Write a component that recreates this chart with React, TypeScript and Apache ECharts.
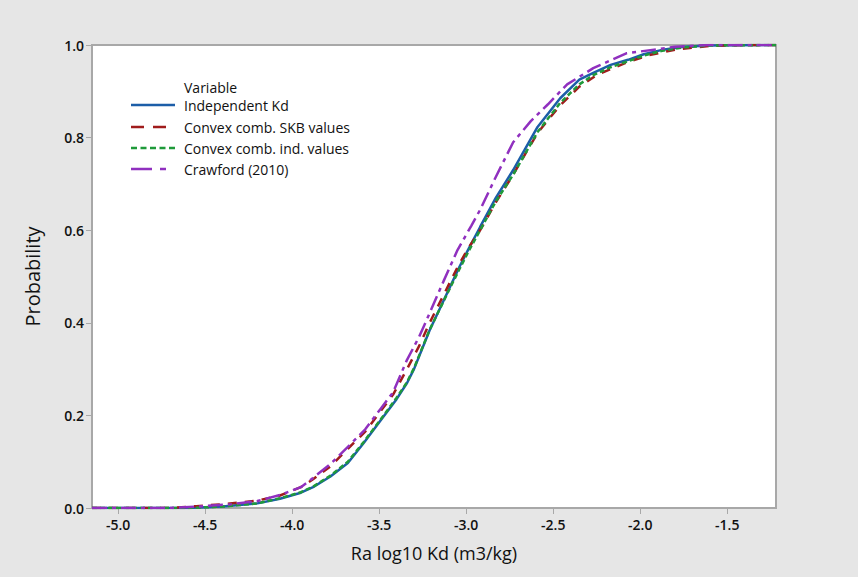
import React, { useEffect, useRef } from "react";
import * as echarts from "echarts";

const seriesNames = [
  "Independent Kd",
  "Convex comb. SKB values",
  "Convex comb. ind. values",
  "Crawford (2010)",
];

const independentKd: [number, number][] = [
  [-5.15, 0], [-4.6, 0], [-4.4, 0.003], [-4.2, 0.01], [-4.07, 0.02], [-3.95, 0.033],
  [-3.88, 0.045], [-3.78, 0.068], [-3.68, 0.097], [-3.59, 0.14], [-3.49, 0.19],
  [-3.4, 0.235], [-3.34, 0.27], [-3.3, 0.3], [-3.21, 0.384], [-3.11, 0.464], [-3.04, 0.52],
  [-2.99, 0.557], [-2.92, 0.607], [-2.83, 0.67], [-2.73, 0.73], [-2.59, 0.823],
  [-2.46, 0.885], [-2.35, 0.925], [-2.27, 0.94], [-2.17, 0.957], [-2.07, 0.968],
  [-1.98, 0.98], [-1.88, 0.989], [-1.75, 0.996], [-1.6, 0.999], [-1.22, 1.0],
];

const convexSKB: [number, number][] = [
  [-5.15, 0], [-4.7, 0], [-4.55, 0.004], [-4.4, 0.008], [-4.2, 0.016], [-4.07, 0.027],
  [-3.95, 0.045], [-3.88, 0.062], [-3.78, 0.09], [-3.68, 0.128], [-3.58, 0.165],
  [-3.49, 0.21], [-3.42, 0.245], [-3.34, 0.3], [-3.27, 0.35], [-3.21, 0.4],
  [-3.13, 0.46], [-3.05, 0.52], [-2.99, 0.56], [-2.92, 0.6], [-2.83, 0.66],
  [-2.73, 0.72], [-2.59, 0.81], [-2.46, 0.87], [-2.35, 0.91], [-2.25, 0.935],
  [-2.08, 0.962], [-1.95, 0.978], [-1.8, 0.99], [-1.6, 0.998], [-1.4, 1.0], [-1.22, 1.0],
];

const convexInd: [number, number][] = [
  [-5.15, 0], [-4.6, 0], [-4.4, 0.003], [-4.2, 0.01], [-4.07, 0.021], [-3.95, 0.034],
  [-3.88, 0.046], [-3.78, 0.07], [-3.68, 0.1], [-3.59, 0.142], [-3.49, 0.192],
  [-3.4, 0.238], [-3.34, 0.272], [-3.3, 0.302], [-3.21, 0.385], [-3.11, 0.462], [-3.04, 0.515],
  [-2.99, 0.552], [-2.92, 0.6], [-2.83, 0.662], [-2.73, 0.72], [-2.59, 0.812],
  [-2.46, 0.875], [-2.35, 0.915], [-2.27, 0.935], [-2.17, 0.952], [-2.07, 0.965],
  [-1.98, 0.977], [-1.88, 0.987], [-1.75, 0.995], [-1.6, 0.999], [-1.22, 1.0],
];

const crawford: [number, number][] = [
  [-5.15, 0], [-4.7, 0], [-4.55, 0.003], [-4.35, 0.008], [-4.2, 0.015], [-4.07, 0.028],
  [-3.95, 0.045], [-3.88, 0.065], [-3.78, 0.095], [-3.68, 0.132], [-3.58, 0.17],
  [-3.49, 0.215], [-3.42, 0.25], [-3.34, 0.32], [-3.27, 0.37], [-3.21, 0.421],
  [-3.13, 0.49], [-3.05, 0.557], [-2.97, 0.61], [-2.92, 0.644], [-2.83, 0.715],
  [-2.73, 0.79], [-2.63, 0.835], [-2.53, 0.872], [-2.42, 0.915], [-2.27, 0.95],
  [-2.08, 0.982], [-1.8, 0.996], [-1.6, 1.0], [-1.22, 1.0],
];

const xTickValues = [-5.0, -4.5, -4.0, -3.5, -3.0, -2.5, -2.0, -1.5];

const colors = ["#1c5ea8", "#a01c1c", "#1f9a3a", "#9030bf"];
const dashTypes: any[] = ["solid", [9, 8], [5, 3], [15, 5, 4, 5]];
const legendDash: any[] = [null, [13, 9], [6, 3.5], [21, 8, 6, 10]];

export default function App() {
  const ref = useRef<HTMLDivElement>(null);
  useEffect(() => {
    const chart = echarts.init(ref.current!, null, { renderer: "svg" });
    const datas = [independentKd, convexSKB, convexInd, crawford];
    const font = "'Open Sans', 'Noto Sans', sans-serif";
    const rowY = [105, 127, 148, 169];
    const legendGraphics: any[] = [
      {
        type: "text",
        x: 184,
        y: 87,
        style: {
          text: "Variable",
          fontSize: 14,
          fill: "#111",
          fontFamily: font,
          verticalAlign: "middle",
        },
      },
    ];
    seriesNames.forEach((n, i) => {
      legendGraphics.push({
        type: "line",
        shape: { x1: 131, y1: rowY[i], x2: 175, y2: rowY[i] },
        style: {
          stroke: colors[i],
          lineWidth: 2.5,
          lineDash: legendDash[i] || undefined,
        },
      });
      legendGraphics.push({
        type: "text",
        x: 184,
        y: rowY[i],
        style: {
          text: n,
          fontSize: 14,
          fill: "#111",
          fontFamily: font,
          verticalAlign: "middle",
        },
      });
    });
    chart.setOption({
      animation: false,
      backgroundColor: "#e6e6e6",
      textStyle: { fontFamily: font },
      grid: {
        left: 92,
        right: 82,
        top: 45,
        bottom: 69,
        show: true,
        backgroundColor: "#ffffff",
        borderColor: "#a8a8a8",
        borderWidth: 2,
      },
      graphic: legendGraphics,
      xAxis: {
        type: "value",
        min: -5.15,
        max: -1.22,
        name: "Ra log10 Kd (m3/kg)",
        nameLocation: "middle",
        nameGap: 36,
        nameTextStyle: { fontSize: 18, color: "#111", fontFamily: font },
        axisLine: { show: true, lineStyle: { color: "#a8a8a8", width: 2 } },
        axisTick: {
          show: true,
          length: 6,
          customValues: xTickValues,
          lineStyle: { color: "#a8a8a8", width: 1 },
        },
        axisLabel: {
          customValues: xTickValues,
          formatter: (v: number) => v.toFixed(1),
          fontSize: 14,
          fontWeight: 600,
          color: "#111",
          margin: 9,
        },
        splitLine: { show: false },
      },
      yAxis: {
        type: "value",
        min: 0,
        max: 1,
        interval: 0.2,
        name: "Probability",
        nameLocation: "middle",
        nameGap: 50,
        nameTextStyle: { fontSize: 20, color: "#111", fontFamily: font },
        axisLine: { show: true, lineStyle: { color: "#a8a8a8", width: 2 } },
        axisTick: { show: true, length: 6, lineStyle: { color: "#a8a8a8", width: 1 } },
        axisLabel: {
          formatter: (v: number) => v.toFixed(1),
          fontSize: 14,
          fontWeight: 600,
          color: "#111",
          margin: 8,
        },
        splitLine: { show: false },
      },
      series: datas.map((d, i) => ({
        name: seriesNames[i],
        type: "line",
        data: d,
        symbol: "none",
        smooth: false,
        color: colors[i],
        lineStyle: { color: colors[i], width: 2.5, type: dashTypes[i] },
      })),
    });
    return () => chart.dispose();
  }, []);
  return (
    <div
      ref={ref}
      style={{ position: "fixed", left: 0, top: 0, width: 858, height: 577 }}
    />
  );
}
